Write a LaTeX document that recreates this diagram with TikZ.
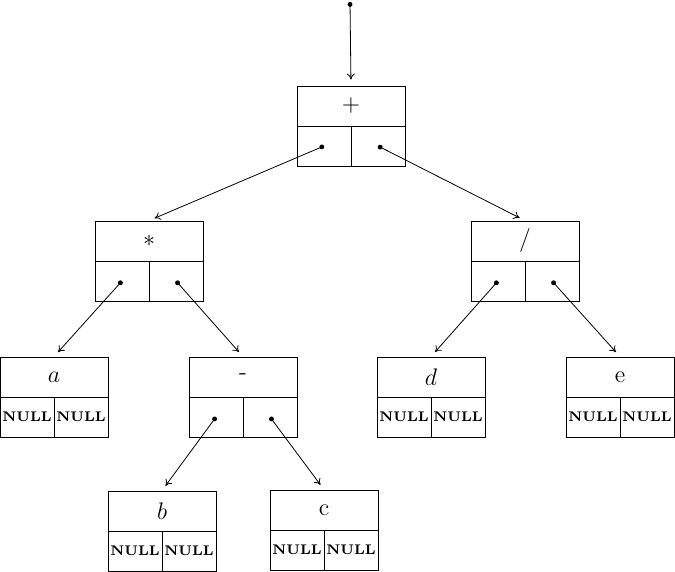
\documentclass[tikz,border=0pt]{standalone}
\usepackage{tikz}
\usetikzlibrary{arrows.meta}

\tikzset{
  head/.style={draw,minimum width=54pt,minimum height=20pt,inner sep=0pt,font=\large},
  cell/.style={draw,minimum width=27pt,minimum height=20pt,inner sep=0pt,font=\scriptsize\bfseries},
  link/.style={{Circle[length=2.4pt]}-{To[length=3pt,width=4pt]},shorten >=3pt}
}

\begin{document}
\begin{tikzpicture}[x=0.5pt,y=-0.5pt]
\path[use as bounding box] (0,0) rectangle (675,572);
% root
\coordinate (top) at (350,2);
\node[head] (plus) at (351,106) {+};
\node[cell] (plusL) at (324,146) {};
\node[cell] (plusR) at (378,146) {};
% second level
\node[head] (star) at (149,241) {$*$};
\node[cell] (starL) at (122,281) {};
\node[cell] (starR) at (176,281) {};
\node[head] (div) at (525,241) {/};
\node[cell] (divL) at (498,281) {};
\node[cell] (divR) at (552,281) {};
% third level
\node[head] (a) at (54,377) {$a$};
\node[cell] (aL) at (27,417) {NULL};
\node[cell] (aR) at (81,417) {NULL};
\node[head] (minus) at (243,377) {-};
\node[cell] (minusL) at (216,417) {};
\node[cell] (minusR) at (270,417) {};
\node[head] (d) at (431,377) {$d$};
\node[cell] (dL) at (404,417) {NULL};
\node[cell] (dR) at (458,417) {NULL};
\node[head] (e) at (620,377) {e};
\node[cell] (eL) at (593,417) {NULL};
\node[cell] (eR) at (647,417) {NULL};
% leaves
\node[head] (b) at (162,511) {$b$};
\node[cell] (bL) at (135,551) {NULL};
\node[cell] (bR) at (189,551) {NULL};
\node[head] (c) at (324,510) {c};
\node[cell] (cL) at (297,550) {NULL};
\node[cell] (cR) at (351,550) {NULL};
% pointers
\draw[link] (top) -- (plus.north);
\draw[link] (plusL.center) -- (star.north);
\draw[link] (plusR.center) -- (div.north);
\draw[link] (starL.center) -- (a.north);
\draw[link] (starR.center) -- (minus.north);
\draw[link] (divL.center) -- (d.north);
\draw[link] (divR.center) -- (e.north);
\draw[link] (minusL.center) -- (b.north);
\draw[link] (minusR.center) -- (c.north);
\end{tikzpicture}
\end{document}
